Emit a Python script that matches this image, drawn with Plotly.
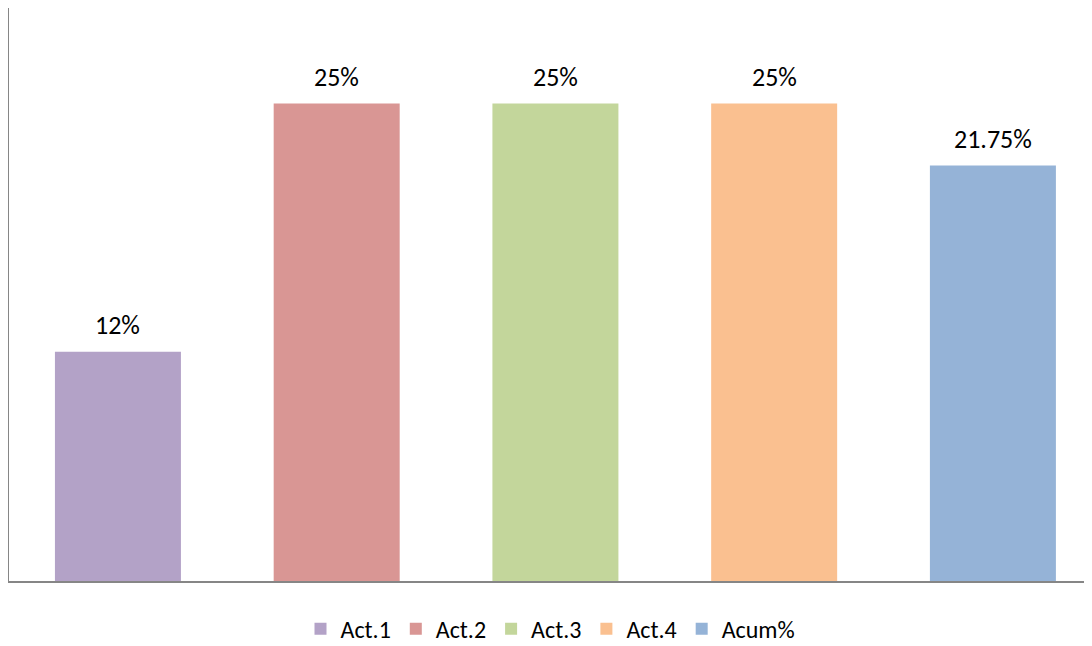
import plotly.graph_objects as go

# --- data ---
categories = ["Act.1", "Act.2", "Act.3", "Act.4", "Acum%"]
values = [12, 25, 25, 25, 21.75]
bar_colors = ["#B3A2C7", "#D99694", "#C3D69B", "#FAC090", "#95B3D7"]

FONT = "Calibri, Carlito, Lato, sans-serif"

fig = go.Figure()
for name, val, col in zip(categories, values, bar_colors):
    fig.add_trace(go.Bar(
        x=[name], y=[val], name=name,
        marker=dict(color=col, line=dict(width=0)),
        width=0.576,
        hoverinfo="x+y",
    ))
    # value label above each bar
    fig.add_annotation(
        x=name, y=val, text=f"{val:g}%",
        showarrow=False, yanchor="middle", yshift=27,
        font=dict(family=FONT, size=26, color="#000000"),
    )

# page body adds an 8px offset; the figure runs a little past the window bottom
fig.update_layout(
    width=1084, height=660,
    barmode="overlay",
    plot_bgcolor="white", paper_bgcolor="white",
    margin=dict(l=1, r=0, t=0, b=87, autoexpand=False),
    showlegend=True,
    legend=dict(
        orientation="h", x=0.5, xanchor="center",
        y=-0.084, yanchor="middle",
        font=dict(family=FONT, size=24, color="#000000"),
        itemclick=False,
    ),
    xaxis=dict(
        type="category", range=[-0.498, 4.453],
        showline=True, linecolor="#868686", linewidth=2,
        showticklabels=False, ticks="", showgrid=False, zeroline=False,
    ),
    yaxis=dict(
        range=[0, 30],
        showline=True, linecolor="#868686", linewidth=2,
        showticklabels=False, ticks="", showgrid=False, zeroline=False,
    ),
)

fig.write_html("out.html")
